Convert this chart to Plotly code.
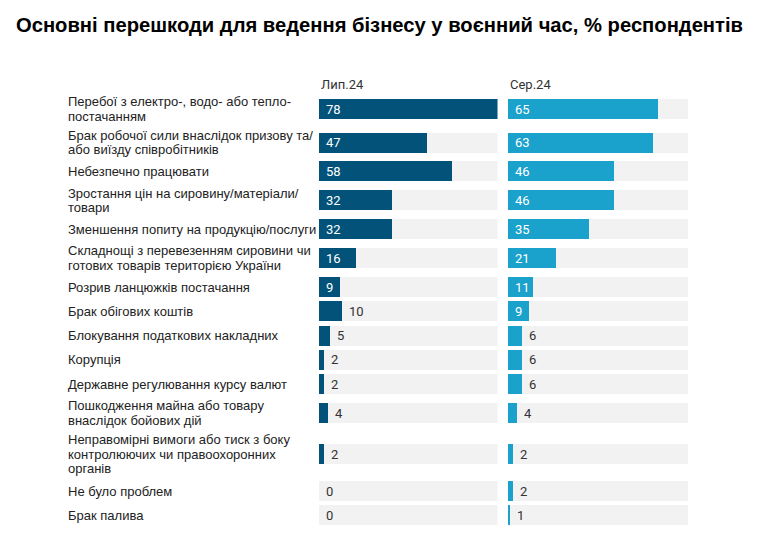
import plotly.graph_objects as go

# data
labels = [
    "Перебої з електро-, водо- або тепло-<br>постачанням",
    "Брак робочої сили внаслідок призову та/<br>або виїзду співробітників",
    "Небезпечно працювати",
    "Зростання цін на сировину/матеріали/<br>товари",
    "Зменшення попиту на продукцію/послуги",
    "Складнощі з перевезенням сировини чи<br>готових товарів територією України",
    "Розрив ланцюжків постачання",
    "Брак обігових коштів",
    "Блокування податкових накладних",
    "Корупція",
    "Державне регулювання курсу валют",
    "Пошкодження майна або товару<br>внаслідок бойових дій",
    "Неправомірні вимоги або тиск з боку<br>контролюючих чи правоохоронних<br>органів",
    "Не було проблем",
    "Брак палива",
]
jul24 = [78, 47, 58, 32, 32, 16, 9, 10, 5, 2, 2, 4, 2, 0, 0]
aug24 = [65, 63, 46, 46, 35, 21, 11, 9, 6, 6, 6, 4, 2, 2, 1]
periods = ["Лип.24", "Сер.24"]

# the page body has an 8px margin, so work in window pixels minus 8
OFF = 8
W, H = 764 - OFF, 542 - OFF
DARK = "#02527a"
LIGHT = "#1aa1cc"
BG = "#f2f2f2"
XMAX = 78

# row heights (px) depend on how many lines the label has
row_h = {1: 24.3, 2: 33.5, 3: 49}
ys = []
y = 109 - OFF
for i, lab in enumerate(labels):
    n = lab.count("<br>") + 1
    if i > 0:
        prev = labels[i - 1].count("<br>") + 1
        y += (row_h[prev] + row_h[n]) / 2
    ys.append(y)

panels = [(319 - OFF, 497.5 - OFF), (508 - OFF, 688 - OFF)]

fig = go.Figure()
for k, (vals, color) in enumerate([(jul24, DARK), (aug24, LIGHT)]):
    xa = "x" if k == 0 else "x2"
    fig.add_trace(go.Bar(
        x=[XMAX] * len(labels), y=ys, orientation="h", width=20,
        marker=dict(color=BG, line_width=0), xaxis=xa, yaxis="y",
        hoverinfo="skip", showlegend=False,
    ))
    fig.add_trace(go.Bar(
        x=vals, y=ys, orientation="h", width=20, name=periods[k],
        marker=dict(color=color, line_width=0), xaxis=xa, yaxis="y",
        showlegend=False,
    ))
    # value labels: inside the bar if the number fits, otherwise after it
    px_w = panels[k][1] - panels[k][0]
    for v, yc in zip(vals, ys):
        inside = v * px_w / XMAX >= 8 + 8 * len(str(v))
        fig.add_annotation(
            x=0 if inside else v, xref=xa, y=yc, yref="y", text=str(v),
            showarrow=False, xanchor="left", yanchor="middle", xshift=5,
            font=dict(family="Roboto", size=13,
                      color="white" if inside else "#333333"),
        )

# category labels, one annotation per line to get tight line spacing
for lab, yc in zip(labels, ys):
    lines = lab.split("<br>")
    n = len(lines)
    for j, line in enumerate(lines):
        fig.add_annotation(
            x=(66 - OFF) / W, xref="paper", y=yc + (j - (n - 1) / 2) * 14.5, yref="y",
            text=line, showarrow=False, xanchor="left", yanchor="middle",
            font=dict(family="Liberation Sans", size=13, color="#222222"),
        )

for k, p in enumerate(periods):
    fig.add_annotation(
        x=panels[k][0] / W, xref="paper", y=84 - OFF, yref="y", text=p,
        showarrow=False, xanchor="left", yanchor="middle",
        font=dict(family="Roboto", size=13, color="#333333"),
    )

fig.update_layout(
    width=W, height=H,
    margin=dict(l=0, r=0, t=0, b=0),
    paper_bgcolor="white", plot_bgcolor="white",
    barmode="overlay", bargap=0,
    title=dict(
        text="<b>Основні перешкоди для ведення бізнесу у воєнний час, % респондентів</b>",
        x=(16 - OFF) / W, xanchor="left", y=1 - (25 - OFF) / H, yanchor="middle",
        yref="container",
        font=dict(family="Liberation Sans", size=20.2, color="black"),
    ),
    xaxis=dict(domain=[panels[0][0] / W, panels[0][1] / W], range=[0, XMAX],
               visible=False, fixedrange=True),
    xaxis2=dict(domain=[panels[1][0] / W, panels[1][1] / W], range=[0, XMAX],
                visible=False, fixedrange=True),
    yaxis=dict(domain=[0, 1], range=[H, 0], visible=False, fixedrange=True),
)

fig.write_html("out.html")
